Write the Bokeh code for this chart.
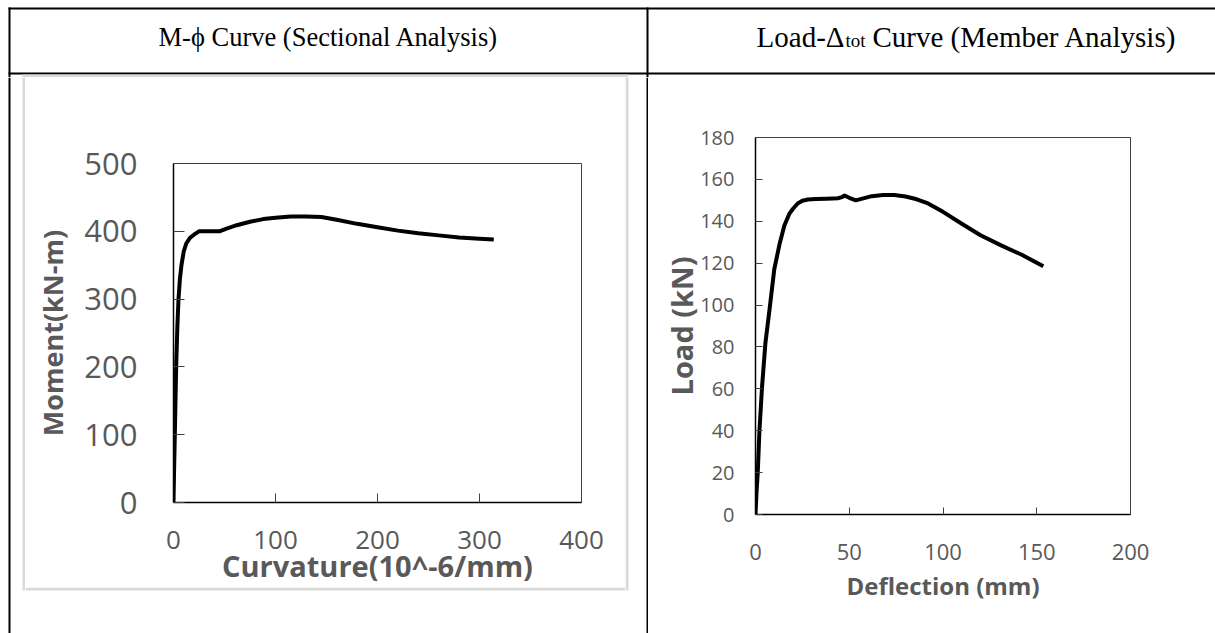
from bokeh.plotting import figure
from bokeh.layouts import row, column
from bokeh.models import Range1d, FixedTicker
from bokeh.core.properties import value
from bokeh.embed import file_html
from bokeh.resources import INLINE

# ---------------- data ----------------
curvature = [0, 0.6, 1.3, 2.6, 3.8, 4.9, 6.3, 7.8, 10, 12.5, 16, 20, 25, 35, 45, 52, 62,
             75, 88, 100, 115, 130, 145, 160, 180, 200, 220, 240, 260, 280, 300, 314]
moment = [0, 50, 100, 200, 260, 300, 330, 350, 370, 382, 390, 395, 400, 400, 400, 404, 409,
          414, 418, 420, 422, 422, 421, 417, 411, 406, 401, 397, 394, 391, 389, 388]

deflection = [0, 0.5, 1.2, 2.1, 3.5, 5.3, 7.5, 10, 12.8, 15.4, 18, 20, 22.5, 25, 28, 32, 38,
              44, 46, 47.5, 50, 53.5, 57, 62, 68, 74, 80, 86, 92, 100, 110, 120, 131, 142, 153.5]
load = [0, 10, 20, 40, 61, 82, 98, 117, 129, 138, 143.5, 146, 148.5, 149.8, 150.4, 150.6, 150.8,
        151, 151.5, 152.3, 151.2, 150, 150.8, 152, 152.5, 152.5, 151.8, 150.5, 148.5, 144.5,
        138.8, 133.3, 128.5, 124, 118.5]

left_x_ticks = [0, 100, 200, 300, 400]
left_y_ticks = [0, 100, 200, 300, 400, 500]
right_x_ticks = [0, 50, 100, 150, 200]
right_y_ticks = [0, 20, 40, 60, 80, 100, 120, 140, 160, 180]

header_left = "M-ϕ Curve (Sectional Analysis)"
header_right_main = "Load-Δ"
header_right_sub = "tot"
header_right_rest = "Curve (Member Analysis)"

left_x_title = "Curvature(10^-6/mm)"
left_y_title = "Moment(kN-m)"
right_x_title = "Deflection (mm)"
right_y_title = "Load (kN)"

GRAY = "#d9d9d9"
TXT = "#595959"
FONT = "Open Sans"
SERIF = "Liberation Serif"


def canvas(w, h, x0, x1, y0, y1):
    """A blank figure whose frame fills it, in page pixel coordinates (y downward)."""
    c = figure(width=w, height=h, toolbar_location=None, output_backend="svg",
               min_border=0, x_axis_location=None, y_axis_location=None,
               x_range=Range1d(x0, x1), y_range=Range1d(y1, y0),
               background_fill_color="white", border_fill_color="white",
               outline_line_color=None, frame_align=False)
    c.grid.visible = False
    return c


# ---------------- header row (page y 0..77) ----------------
hdr = canvas(1215, 77, 0, 1215, 0, 77)
hdr.quad(left=[8, 8, 8, 646], right=[1215, 10, 1215, 648],
         top=[7, 7, 72, 7], bottom=[9, 77, 74, 77],
         fill_color="black", line_color=None)
hdr.quad(left=[22], right=[628], top=[74], bottom=[77], fill_color=GRAY, line_color=None)
hdr.text(x=[328], y=[36], text=[header_left], text_font=value(SERIF),
         text_font_size="26.5px", text_align="center", text_baseline="alphabetic",
         text_color="black")
xa = 844
hdr.text(x=[xa], y=[36], text=[header_right_main], text_font=value(SERIF),
         text_font_size="29px", text_align="right", text_baseline="alphabetic",
         text_color="black")
hdr.text(x=[xa + 1], y=[40], text=[header_right_sub], text_font=value(SERIF),
         text_font_size="19px", text_align="left", text_baseline="alphabetic",
         text_color="black")
hdr.text(x=[xa + 28], y=[36], text=[header_right_rest], text_font=value(SERIF),
         text_font_size="29px", text_align="left", text_baseline="alphabetic",
         text_color="black")

# ---------------- body strips (page y 77..633) ----------------
left_strip = canvas(25, 556, 0, 25, 77, 633)
left_strip.quad(left=[8, 22], right=[10, 25], top=[77, 77], bottom=[633, 590],
                fill_color=["black", GRAY], line_color=None)

mid_strip = canvas(23, 556, 625, 648, 77, 633)
mid_strip.quad(left=[625, 646], right=[628, 648], top=[77, 77], bottom=[590, 633],
               fill_color=[GRAY, "black"], line_color=None)

bottom_area = canvas(600, 46, 25, 625, 587, 633)
bottom_area.quad(left=[25], right=[625], top=[587], bottom=[590], fill_color=GRAY,
                 line_color=None)


def style_axes(p, xticks, yticks, xfs, yfs, xtick_in, ytick_in):
    p.xgrid.visible = False
    p.ygrid.visible = False
    p.outline_line_color = "#404040"
    p.outline_line_width = 1
    p.outline_line_alpha = 1
    p.xaxis.ticker = FixedTicker(ticks=xticks)
    p.yaxis.ticker = FixedTicker(ticks=yticks)
    for ax, fs, tin in ((p.xaxis, xfs, xtick_in), (p.yaxis, yfs, ytick_in)):
        ax.axis_line_color = "black"
        ax.axis_line_width = 1.5
        ax.major_tick_line_color = "#404040"
        ax.major_tick_line_width = 1
        ax.major_tick_in = tin
        ax.major_tick_out = 0
        ax.minor_tick_line_color = None
        ax.major_label_text_font = FONT
        ax.major_label_text_font_size = fs
        ax.major_label_text_color = TXT
        ax.axis_label_text_font = FONT
        ax.axis_label_text_font_style = "bold"
        ax.axis_label_text_color = TXT


# ---------------- left chart (page x 25..625, y 77..587) ----------------
pL = figure(width=600, height=510, x_range=Range1d(0, 400), y_range=Range1d(0, 500),
            toolbar_location=None, output_backend="svg", frame_align=False,
            min_border_left=148, min_border_right=44, min_border_top=86, min_border_bottom=83,
            background_fill_color="white", border_fill_color="white")
pL.line(curvature, moment, line_color="black", line_width=4, line_join="round")
style_axes(pL, left_x_ticks, left_y_ticks, "26px", "31px", 9, 11)
pL.xaxis.axis_label = left_x_title
pL.yaxis.axis_label = left_y_title
pL.xaxis.axis_label_text_font_size = "29px"
pL.yaxis.axis_label_text_font_size = "27px"
pL.xaxis.major_label_standoff = 28
pL.yaxis.major_label_standoff = 36
pL.xaxis.axis_label_standoff = -6
pL.yaxis.axis_label_standoff = 10

# ---------------- right chart (page x 648..1215, y 77..633) ----------------
pR = figure(width=567, height=556, x_range=Range1d(0, 200), y_range=Range1d(0, 180),
            toolbar_location=None, output_backend="svg", frame_align=False,
            min_border_left=107, min_border_right=85, min_border_top=60, min_border_bottom=119,
            background_fill_color="white", border_fill_color="white")
pR.line(deflection, load, line_color="black", line_width=4, line_join="round")
style_axes(pR, right_x_ticks, right_y_ticks, "22px", "20px", 7, 7)
pR.xaxis.axis_label = right_x_title
pR.yaxis.axis_label = right_y_title
pR.xaxis.axis_label_text_font_size = "24px"
pR.yaxis.axis_label_text_font_size = "29px"
pR.xaxis.major_label_standoff = 29
pR.yaxis.major_label_standoff = 21
pR.xaxis.axis_label_standoff = 6
pR.yaxis.axis_label_standoff = -4

# ---------------- table layout ----------------
chart_col = column(pL, bottom_area)
body = row(left_strip, chart_col, mid_strip, pR)
layout = column(hdr, body)

open("out.html", "w").write(file_html(layout, INLINE))
